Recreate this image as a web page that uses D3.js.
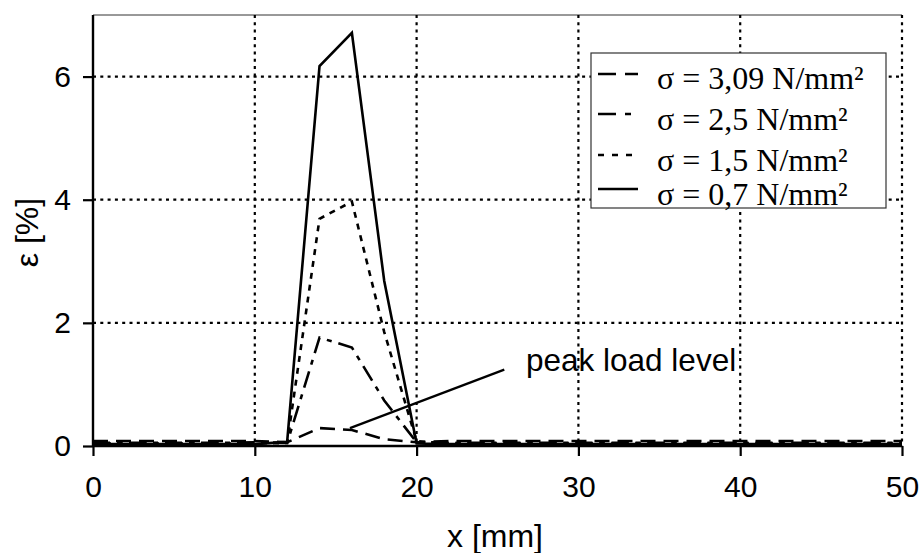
<!DOCTYPE html>
<html><head><meta charset="utf-8">
<script src="https://cdn.jsdelivr.net/npm/d3@7"></script>
<style>body{margin:0;background:#fff}svg{display:block}</style>
</head><body><svg id="c" width="920" height="553"></svg>
<script>
const xValues = [0,2,4,6,8,10,12,14,16,18,20,22,24,26,28,30,32,34,36,38,40,42,44,46,48,50];
const s309 = [0.08,0.08,0.08,0.08,0.08,0.08,0.06,0.29,0.26,0.11,0.06,0.08,0.08,0.08,0.08,0.08,0.08,0.08,0.08,0.08,0.08,0.08,0.08,0.08,0.08,0.08];
const s25  = [0.05,0.05,0.05,0.05,0.05,0.06,0.05,1.76,1.60,0.74,0.06,0.05,0.05,0.05,0.05,0.05,0.05,0.05,0.05,0.05,0.05,0.05,0.05,0.05,0.05,0.05];
const s15  = [0.04,0.04,0.04,0.04,0.04,0.04,0.05,3.69,3.97,1.85,0.08,0.04,0.04,0.04,0.04,0.04,0.04,0.04,0.04,0.04,0.04,0.04,0.04,0.04,0.04,0.04];
const s07  = [0.03,0.03,0.03,0.03,0.03,0.03,0.07,6.17,6.71,2.68,0.04,0.03,0.03,0.03,0.03,0.03,0.03,0.03,0.03,0.03,0.03,0.03,0.03,0.03,0.03,0.03];
const seriesNames = ["σ = 3,09 N/mm²","σ = 2,5 N/mm²","σ = 1,5 N/mm²","σ = 0,7 N/mm²"];
const xTicks = [0,10,20,30,40,50];
const yTicks = [0,2,4,6];
const annotation = {text:"peak load level", x1:25.42, y1:1.24, x2:15.88, y2:0.29};

const series = [s309, s25, s15, s07];
const dashes = ["15,8", "17,7,5,7", "6,6", null];

const svg = d3.select("#c");
const L=93, R=902, T=15, B=446;
const x = d3.scaleLinear().domain([0,50]).range([L,R]);
const y = d3.scaleLinear().domain([0,7]).range([B,T]);
const sans = "Liberation Sans, Arial, sans-serif";

// top border
svg.append("line").attr("x1",L).attr("x2",R).attr("y1",T).attr("y2",T)
  .attr("stroke","#333").attr("stroke-width",1);

// grid
const grid = svg.append("g").attr("stroke","#000").attr("stroke-width",2.2).attr("stroke-dasharray","3,4.3");
xTicks.filter(d=>d>0).forEach(d=>{
  grid.append("line").attr("x1",x(d)).attr("x2",x(d)).attr("y1",T).attr("y2",B);
});
yTicks.filter(d=>d>0).forEach(d=>{
  grid.append("line").attr("x1",L).attr("x2",R).attr("y1",y(d)).attr("y2",y(d));
});

// series
const line = d3.line().x((d,i)=>x(xValues[i])).y(d=>y(d));
series.forEach((s,k)=>{
  const p = svg.append("path").datum(s).attr("d",line).attr("fill","none")
    .attr("stroke","#000").attr("stroke-width",2.6).attr("stroke-linejoin","miter");
  if(dashes[k]) p.attr("stroke-dasharray",dashes[k]);
});

// axes
const xAxis = d3.axisBottom(x).tickValues(xTicks).tickSize(10).tickPadding(20).tickFormat(d3.format("d"));
const gx = svg.append("g").attr("transform",`translate(0,${B})`).call(xAxis);
const yAxis = d3.axisLeft(y).tickValues(yTicks).tickSize(10).tickPadding(12).tickFormat(d3.format("d"));
const gy = svg.append("g").attr("transform",`translate(${L},0)`).call(yAxis);
[gx,gy].forEach(g=>{
  g.select(".domain").attr("stroke","#000").attr("stroke-width",2.4);
  g.selectAll(".tick line").attr("stroke","#000").attr("stroke-width",2.2);
  g.selectAll(".tick text").attr("font-family",sans).attr("font-size",30).attr("fill","#000");
});
gx.select(".domain").attr("d",`M${L},0H${R}`);
gy.select(".domain").attr("d",`M0,${B}V${T}`);

// axis titles
svg.append("text").attr("x",495).attr("y",547).attr("text-anchor","middle")
  .attr("font-family",sans).attr("font-size",32).text("x [mm]");
svg.append("text").attr("transform",`translate(38,${(T+B)/2+2}) rotate(-90)`).attr("text-anchor","middle")
  .attr("font-family",sans).attr("font-size",32).text("ε [%]");

// annotation
svg.append("line").attr("x1",x(annotation.x1)).attr("y1",y(annotation.y1))
  .attr("x2",x(annotation.x2)).attr("y2",y(annotation.y2)).attr("stroke","#000").attr("stroke-width",2.2);
svg.append("text").attr("x",526).attr("y",371).attr("font-family",sans)
  .attr("font-size",31.5).text(annotation.text);

// legend
const lg = svg.append("g");
lg.append("rect").attr("x",591).attr("y",53).attr("width",295).attr("height",155)
  .attr("fill","#fff").attr("stroke","#333").attr("stroke-width",1.2);
const rowY = [74,114,155,189];
const textY = [89,130,171,205];
seriesNames.forEach((n,k)=>{
  const l = lg.append("line").attr("x1",598).attr("x2",638).attr("y1",rowY[k]).attr("y2",rowY[k])
    .attr("stroke","#000").attr("stroke-width",2.6);
  if(dashes[k]) l.attr("stroke-dasharray", k===0?"18,9":(k===1?"18,9,6,9":"6,8"));
  lg.append("text").attr("x",657).attr("y",textY[k]).attr("font-family","Liberation Serif, Times New Roman, serif")
    .attr("font-size",32).attr("fill","#000").text(n);
});
</script></body></html>
